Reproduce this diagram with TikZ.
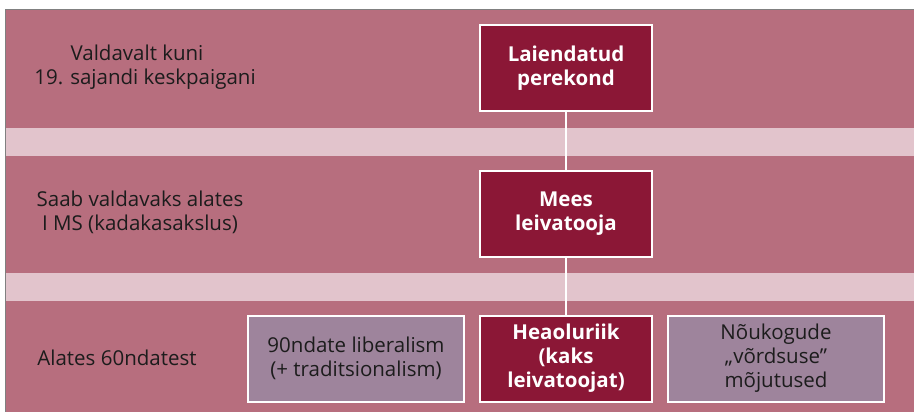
\documentclass[tikz,border=0pt]{standalone}
\usepackage{fontspec}
\setmainfont{Open Sans}
\definecolor{bandrose}{HTML}{B76E7E}
\definecolor{bandpale}{HTML}{E2C4CC}
\definecolor{boxwine}{HTML}{8B1736}
\definecolor{boxmauve}{HTML}{9E849C}
\definecolor{inkgray}{HTML}{1C1C1C}
\newcommand{\diagfont}{\fontsize{20.5}{24}\selectfont}
\tikzset{
  stage/.style={draw=white, line width=2pt, fill=boxwine, text=white, font=\diagfont\bfseries,
    align=center, minimum width=172pt, minimum height=86pt, inner sep=0pt},
  influence/.style={draw=white, line width=2pt, fill=boxmauve, text=inkgray, font=\diagfont,
    align=center, minimum width=216pt, minimum height=86pt, inner sep=0pt},
  era/.style={align=center, text=inkgray, font=\diagfont, inner sep=0pt}
}
\begin{document}
\begin{tikzpicture}[x=1pt,y=-1pt]
\useasboundingbox (0,0) rectangle (914,412);
% bands
\fill[bandrose] (5,10) rectangle (914,412);
\fill[bandpale] (5,128) rectangle (914,156);
\fill[bandpale] (5,273) rectangle (914,301);
\draw[gray, line width=1pt] (5,412) -- (5,10) -- (914,10);
% periods
\node[era] (era1) at (145,67) {Valdavalt kuni\hspace*{16pt}\\19. sajandi keskpaigani};
\node[era] (era2) at (140,212) {Saab valdavaks alates\\I MS (kadakasakslus)};
\node[era] (era3) at (117,358) {Alates 60ndatest};
% family models
\node[stage] (laiendatud) at (566,68.5) {Laiendatud\\perekond};
\node[stage] (mees) at (566,213.5) {Mees\\leivatooja};
\node[stage] (heaolu) at (566,358.5) {Heaoluriik\\(kaks\\leivatoojat)};
\node[influence] (liberalism) at (356,358.5) {90ndate liberalism\\(+ traditsionalism)};
\node[influence] (noukogude) at (776,358.5) {Nõukogude\\„võrdsuse”\\mõjutused};
\draw[white, line width=2pt] (laiendatud) -- (mees);
\draw[white, line width=2pt] (mees) -- (heaolu);
\end{tikzpicture}
\end{document}
